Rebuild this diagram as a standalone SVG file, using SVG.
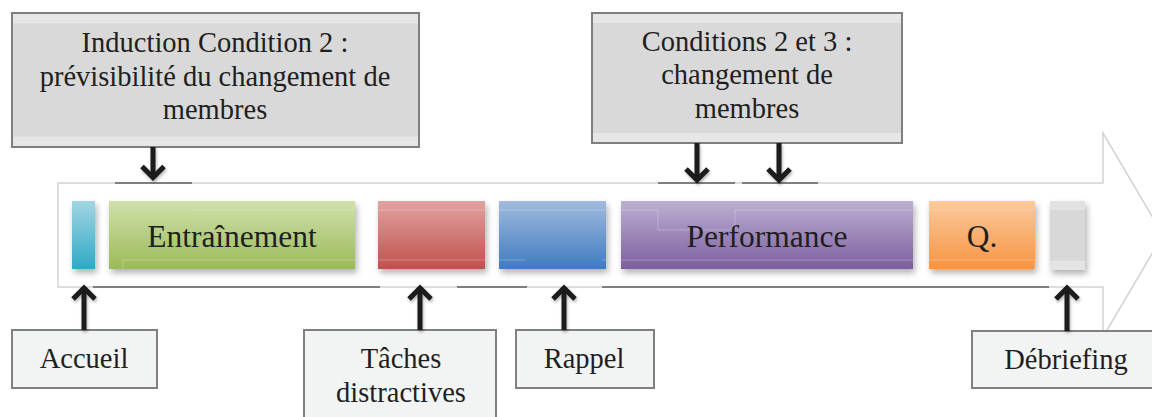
<svg xmlns="http://www.w3.org/2000/svg" width="1152" height="417" viewBox="0 0 1152 417">
<style>
text{font-family:"Liberation Serif","Times New Roman",serif;fill:#1f1f1f;text-anchor:middle}
.t{font-size:28.5px}
.b{font-size:31.5px}
.topbox{fill:url(#gTop);stroke:#7f7f7f;stroke-width:2}
.botbox{fill:#f2f3f3;stroke:#808080;stroke-width:2}
.lt{stroke:#d2d2d2;stroke-width:1.5;fill:none}
.dk{stroke:#7f7f7f;stroke-width:2;fill:none}
.arr{stroke:#1a1a1a;stroke-width:5;fill:none;marker-end:url(#head)}
.fl{stroke:#ffffff;stroke-opacity:.25;stroke-width:1;fill:none}
.blk{filter:url(#sh)}
</style>
<defs>
<linearGradient id="gTop" x1="0" y1="0" x2="0" y2="1">
<stop offset="0" stop-color="#e6e6e6"/><stop offset="0.075" stop-color="#e6e6e6"/><stop offset="0.08" stop-color="#d9d9d9"/><stop offset="0.92" stop-color="#d9d9d9"/><stop offset="0.925" stop-color="#e6e6e6"/><stop offset="1" stop-color="#e6e6e6"/>
</linearGradient>
<linearGradient id="gCy" x1="0" y1="0" x2="0" y2="1"><stop offset="0" stop-color="#a3d6e3"/><stop offset="1" stop-color="#2fa8c6"/></linearGradient>
<linearGradient id="gGr" x1="0" y1="0" x2="0" y2="1"><stop offset="0" stop-color="#d0e0ab"/><stop offset="1" stop-color="#9abb58"/></linearGradient>
<linearGradient id="gRd" x1="0" y1="0" x2="0" y2="1"><stop offset="0" stop-color="#e2a3a2"/><stop offset="1" stop-color="#c0504d"/></linearGradient>
<linearGradient id="gBl" x1="0" y1="0" x2="0" y2="1"><stop offset="0" stop-color="#a1bbde"/><stop offset="1" stop-color="#3f7bc0"/></linearGradient>
<linearGradient id="gPu" x1="0" y1="0" x2="0" y2="1"><stop offset="0" stop-color="#bdafd1"/><stop offset="1" stop-color="#7c5ea0"/></linearGradient>
<linearGradient id="gOr" x1="0" y1="0" x2="0" y2="1"><stop offset="0" stop-color="#fbca9c"/><stop offset="1" stop-color="#f79443"/></linearGradient>
<linearGradient id="gGy" x1="0" y1="0" x2="0" y2="1">
<stop offset="0" stop-color="#e2e2e2"/><stop offset="0.13" stop-color="#e2e2e2"/><stop offset="0.14" stop-color="#d8d8d8"/><stop offset="0.86" stop-color="#d8d8d8"/><stop offset="0.87" stop-color="#e4e4e4"/><stop offset="1" stop-color="#e4e4e4"/>
</linearGradient>
<filter id="sh" x="-20%" y="-20%" width="150%" height="160%"><feDropShadow dx="2" dy="4" stdDeviation="3" flood-color="#000" flood-opacity="0.3"/></filter>
<filter id="ash" filterUnits="userSpaceOnUse" x="0" y="0" width="1152" height="417"><feDropShadow dx="1" dy="2" stdDeviation="1.5" flood-color="#000" flood-opacity="0.3"/></filter>
<marker id="head" markerUnits="userSpaceOnUse" viewBox="-4 -16 22 32" markerWidth="22" markerHeight="32" refX="11" refY="0" orient="auto">
<path d="M0,-11 L11,0 L0,11" stroke="#1a1a1a" stroke-width="5" fill="none" stroke-linejoin="miter"/>
</marker>
</defs>

<g id="timeline-arrow">
<path class="lt" d="M58,183 L1103,183 L1103,133 L1163,235 L1103,337 L1103,287 L58,287 Z"/>
</g>

<g id="accent-lines">
<path class="dk" d="M115,183 H192 M658,183 H735 M742,183 H818"/>
<path class="dk" d="M93,287 H380 M457,287 H527 M602,287 H1049"/>
</g>

<g id="blk-accueil" class="blk"><rect x="72" y="201" width="23" height="68" fill="url(#gCy)"/></g>
<g id="blk-entrainement" class="blk"><rect x="109" y="201" width="246" height="68" fill="url(#gGr)"/></g>
<g id="blk-taches" class="blk"><rect x="378" y="201" width="107" height="68" fill="url(#gRd)"/></g>
<g id="blk-rappel" class="blk"><rect x="499" y="201" width="107" height="68" fill="url(#gBl)"/></g>
<g id="blk-performance" class="blk"><rect x="621" y="201" width="292" height="68" fill="url(#gPu)"/></g>
<g id="blk-q" class="blk"><rect x="929" y="201" width="106" height="68" fill="url(#gOr)"/></g>
<g id="blk-debriefing" class="blk"><rect x="1050" y="201" width="35" height="69" fill="url(#gGy)"/></g>

<g id="faint-lines">
<path class="fl" d="M192,210 H355 M123,260 H355 M123,260 V269 M378,210 H485 M378,260 H485 M499,210 H606 M499,260 H526 M602,260 H606 M621,210 H658 V230 H735 V210 H913 M621,260 H913 M929,210 H1035 M929,260 H1035 M1035,260 V269"/>
</g>

<g id="block-labels">
<text class="b" x="232" y="247">Entraînement</text>
<text class="b" x="767" y="247">Performance</text>
<text class="b" x="982" y="247">Q.</text>
</g>

<g id="node-induction">
<rect class="topbox" x="12" y="13" width="407" height="134"/>
<text class="t" x="215" y="52">Induction Condition 2 :</text>
<text class="t" x="215" y="86">prévisibilité du changement de</text>
<text class="t" x="215" y="119">membres</text>
</g>

<g id="node-conditions">
<rect class="topbox" x="592" y="13" width="310" height="130"/>
<text class="t" x="747" y="51">Conditions 2 et 3 :</text>
<text class="t" x="747" y="84">changement de</text>
<text class="t" x="747" y="118">membres</text>
</g>

<g id="node-accueil">
<rect class="botbox" x="12" y="330" width="145" height="58"/>
<text class="t" x="84" y="368">Accueil</text>
</g>

<g id="node-taches">
<rect class="botbox" x="304" y="330" width="192" height="95"/>
<text class="t" x="401" y="368">Tâches</text>
<text class="t" x="401" y="402">distractives</text>
</g>

<g id="node-rappel">
<rect class="botbox" x="516" y="330" width="138" height="58"/>
<text class="t" x="584" y="368">Rappel</text>
</g>

<g id="node-debriefing">
<rect class="botbox" x="972" y="331" width="190" height="57"/>
<text class="t" x="1066" y="369">Débriefing</text>
</g>

<g id="connectors" filter="url(#ash)">
<line class="arr" x1="153" y1="147" x2="153" y2="177.5"/>
<line class="arr" x1="697" y1="143" x2="697" y2="180"/>
<line class="arr" x1="779" y1="143" x2="779" y2="180"/>
<line class="arr" x1="84" y1="330" x2="84" y2="288"/>
<line class="arr" x1="420" y1="330" x2="420" y2="288"/>
<line class="arr" x1="564" y1="330" x2="564" y2="288"/>
<line class="arr" x1="1067" y1="331" x2="1067" y2="288"/>
</g>
</svg>
